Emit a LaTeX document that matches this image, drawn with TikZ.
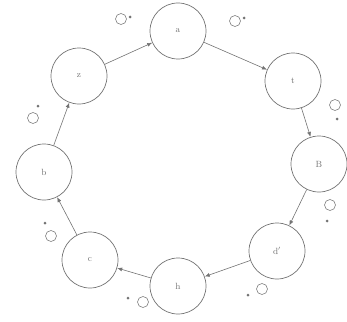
\documentclass[tikz,border=0pt]{standalone}
\usetikzlibrary{arrows.meta}
\begin{document}
\begin{tikzpicture}[x=1pt,y=-1pt,
  st/.style={circle,draw=black!55,line width=0.7pt,minimum size=56pt,inner sep=0pt,font=\small,text=black!55},
  tr/.style={draw=black!55,line width=0.6pt,-{Latex[length=5pt,width=4pt]}},
  mk/.style={circle,draw=black!50,line width=0.6pt,minimum size=11pt,inner sep=0pt},
  dt/.style={circle,fill=black!55,minimum size=3pt,inner sep=0pt}]
\useasboundingbox (0,0) rectangle (347,321);
\node[st] (a) at (178,31) {a};
\node[st] (t) at (293,81) {t};
\node[st] (B) at (319,164) {B};
\node[st] (d) at (277,251) {d$'$};
\node[st] (h) at (178,286) {h};
\node[st] (c) at (90,260) {c};
\node[st] (b) at (44,172) {b};
\node[st] (z) at (79,76) {z};
\draw[tr] (a) -- (t);
\draw[tr] (t) -- (B);
\draw[tr] (B) -- (d);
\draw[tr] (d) -- (h);
\draw[tr] (h) -- (c);
\draw[tr] (c) -- (b);
\draw[tr] (b) -- (z);
\draw[tr] (z) -- (a);
\node[mk] (m1) at (121,19) {}; \node[dt] (p1) at (130,17) {};
\node[mk] (m2) at (235,21) {}; \node[dt] (p2) at (244,18) {};
\node[mk] (m3) at (335,105) {}; \node[dt] (p3) at (337,119) {};
\node[mk] (m4) at (330,205) {}; \node[dt] (p4) at (327,221) {};
\node[mk] (m5) at (262,289) {}; \node[dt] (p5) at (248,295) {};
\node[mk] (m6) at (143,302) {}; \node[dt] (p6) at (128,298) {};
\node[mk] (m7) at (51,236) {}; \node[dt] (p7) at (45,223) {};
\node[mk] (m8) at (33,118) {}; \node[dt] (p8) at (38,106) {};
\end{tikzpicture}
\end{document}
